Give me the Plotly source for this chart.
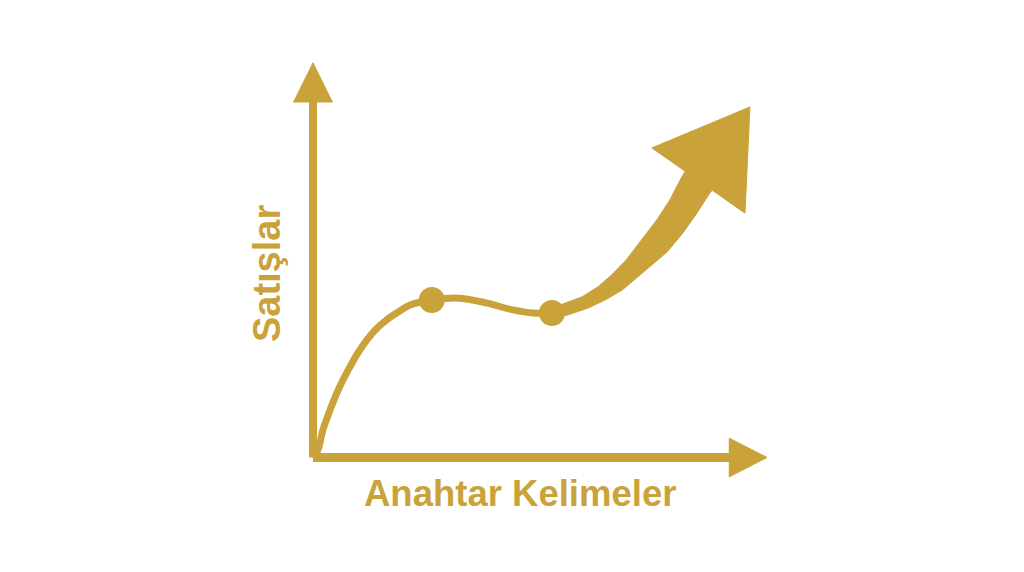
import plotly.graph_objects as go

GOLD = "#C9A33A"

# Sales curve (keyword axis vs sales), in chart units
curve_x = [0.0, 0.11, 0.22, 0.38, 0.56, 0.78, 1.04, 1.38, 1.64, 1.89, 2.16, 2.64,
           3.27, 3.87, 4.44, 4.89, 5.31]
curve_y = [0.0, 0.17, 0.61, 1.06, 1.5, 1.94, 2.39, 2.83, 3.06, 3.23, 3.39, 3.5,
           3.54, 3.43, 3.28, 3.21, 3.21]

# highlighted points on the curve
point_x = [2.64, 5.31]
point_y = [3.5, 3.21]

# thickening growth ribbon: upper edge then lower edge back
ribbon_x = [5.31, 5.6, 5.98, 6.33, 6.64, 6.96, 7.29, 7.64, 7.93, 8.16, 8.33,
            8.93, 8.82, 8.53, 8.22, 7.87, 7.53, 7.22, 6.87, 6.49, 6.11, 5.67, 5.31]
ribbon_y = [3.32, 3.43, 3.57, 3.79, 4.06, 4.39, 4.81, 5.28, 5.72, 6.17, 6.46,
            6.01, 5.88, 5.43, 4.99, 4.57, 4.28, 4.01, 3.72, 3.5, 3.32, 3.17, 3.1]

# arrowhead of the growth arrow
head_x = [7.53, 9.71, 9.6, 7.53]
head_y = [6.88, 7.79, 5.43, 6.88]

# axes lengths and arrowheads
x_axis_end = 9.3
y_axis_end = 7.95
x_tip = 10.09
y_tip = 8.77
head_half = 0.43

x_label = "Anahtar Kelimeler"
y_label = "Satışlar"

fig = go.Figure()

# axes lines
fig.add_trace(go.Scatter(x=[0, x_axis_end], y=[0, 0], mode="lines",
                         line=dict(color=GOLD, width=9), hoverinfo="skip"))
fig.add_trace(go.Scatter(x=[0, 0], y=[0, y_axis_end], mode="lines",
                         line=dict(color=GOLD, width=8), hoverinfo="skip"))
# axis arrowheads
fig.add_trace(go.Scatter(x=[x_axis_end - 0.05, x_tip, x_axis_end - 0.05, x_axis_end - 0.05],
                         y=[head_half, 0, -head_half, head_half],
                         mode="lines", fill="toself", fillcolor=GOLD,
                         line=dict(color=GOLD, width=1), hoverinfo="skip"))
fig.add_trace(go.Scatter(x=[-head_half, 0, head_half, -head_half],
                         y=[y_axis_end - 0.05, y_tip, y_axis_end - 0.05, y_axis_end - 0.05],
                         mode="lines", fill="toself", fillcolor=GOLD,
                         line=dict(color=GOLD, width=1), hoverinfo="skip"))

# curve
fig.add_trace(go.Scatter(x=curve_x, y=curve_y, mode="lines",
                         line=dict(color=GOLD, width=7, shape="spline", smoothing=1.0),
                         hoverinfo="skip"))

# ribbon + arrowhead
fig.add_trace(go.Scatter(x=ribbon_x, y=ribbon_y, mode="lines", fill="toself",
                         fillcolor=GOLD, line=dict(color=GOLD, width=1),
                         hoverinfo="skip"))
fig.add_trace(go.Scatter(x=head_x, y=head_y, mode="lines", fill="toself",
                         fillcolor=GOLD, line=dict(color=GOLD, width=1), hoverinfo="skip"))

# points
fig.add_trace(go.Scatter(x=point_x, y=point_y, mode="markers",
                         marker=dict(color=GOLD, size=26, line=dict(width=0)),
                         hoverinfo="skip"))

fig.add_annotation(x=4.6, y=-0.81, text=f"<b>{x_label}</b>", showarrow=False,
                   font=dict(family="Liberation Sans, Arial", size=36.5, color=GOLD))
fig.add_annotation(x=-1.02, y=4.1, text=f"<b>{y_label}</b>", showarrow=False, textangle=-90,
                   font=dict(family="Liberation Sans, Arial", size=38, color=GOLD))

# page has an 8px body margin, so the ranges are shifted to compensate
fig.update_layout(
    width=1024, height=572,
    margin=dict(l=0, r=0, t=0, b=0),
    paper_bgcolor="white", plot_bgcolor="white",
    showlegend=False,
    xaxis=dict(range=[-305 / 45, 719 / 45], visible=False, fixedrange=True),
    yaxis=dict(range=[-122.5 / 45, 449.5 / 45], visible=False, fixedrange=True),
)

fig.write_html("out.html")
